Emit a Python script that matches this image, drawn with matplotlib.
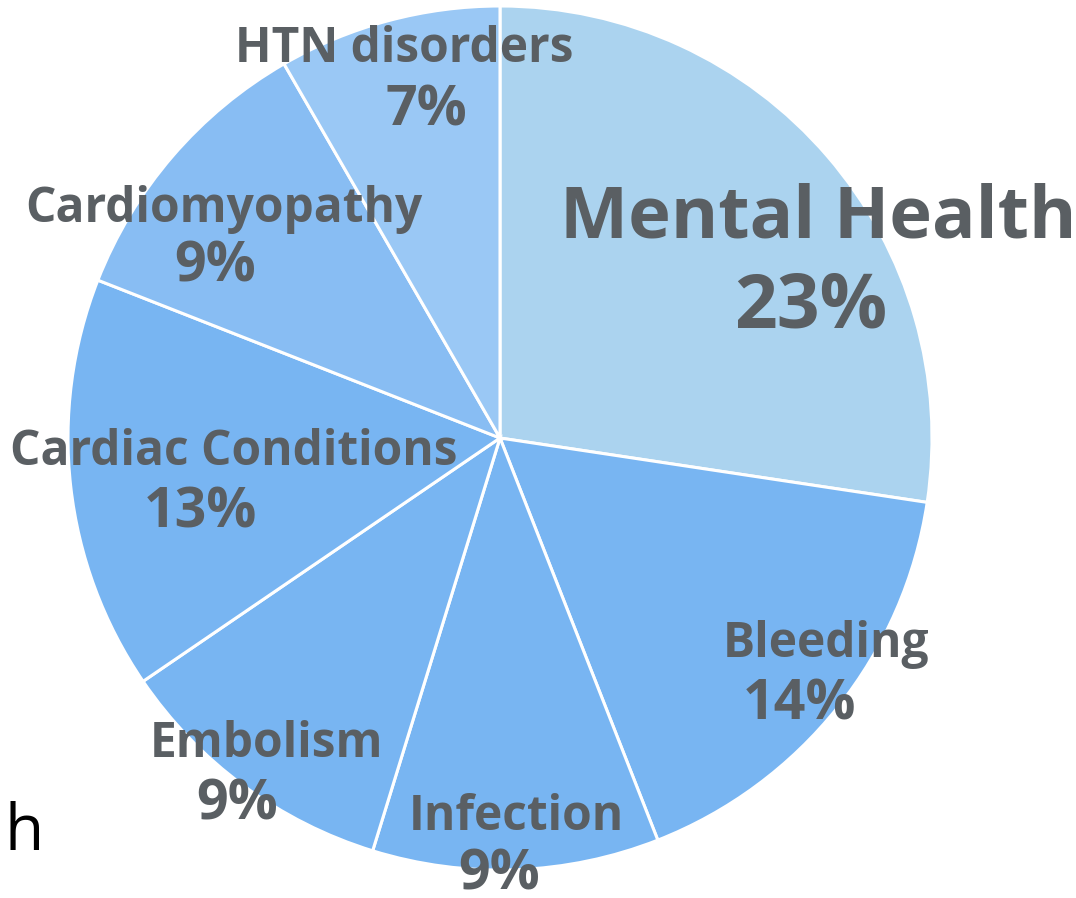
import matplotlib.pyplot as plt

# data (labels show the raw numbers, slices are normalised)
causes = ["Mental Health", "Bleeding", "Infection", "Embolism",
          "Cardiac Conditions", "Cardiomyopathy", "HTN disorders"]
shares = [23, 14, 9, 9, 13, 9, 7]
colors = ["#abd3ef", "#78b5f2", "#78b5f2", "#78b5f2",
          "#78b5f2", "#88bdf3", "#9ac8f5"]

# label layout: (x centre, baseline) in pixels from top-left
name_pos = [(818, 237), (826, 657), (516, 830), (266, 757),
            (234, 465), (224, 222), (404, 62)]
num_pos = [(811, 327), (800, 720), (499, 889), (237, 820),
           (200, 528), (215, 282), (426, 125)]
name_size = [52, 34.5, 34.5, 34.5, 34.5, 34.5, 34.5]
num_size = [54, 40, 40, 40, 40, 40, 40]

W, H = 1076, 898
fig = plt.figure(figsize=(W / 100, H / 100), dpi=100)
ax = fig.add_axes([0, 0, 1, 1])

ax.pie(shares, colors=colors, startangle=90, counterclock=False,
       radius=432, center=(500, H - 438),
       wedgeprops=dict(edgecolor="white", linewidth=2.2))
ax.set_xlim(0, W)
ax.set_ylim(0, H)
ax.set_aspect("equal")
ax.axis("off")

txt = "#5a5f63"
for i, name in enumerate(causes):
    x, y = name_pos[i]
    ax.text(x, H - y, name, ha="center", va="baseline", fontsize=name_size[i],
            fontweight="bold", family="Open Sans", color=txt)
    x, y = num_pos[i]
    ax.text(x, H - y, f"{shares[i]}%", ha="center", va="baseline",
            fontsize=num_size[i], fontweight="bold", family="Open Sans", color=txt)

ax.text(5, H - 850, "h", ha="left", va="baseline", fontsize=46,
        family="Open Sans", color="black")

fig.savefig("out.png", dpi=100)
